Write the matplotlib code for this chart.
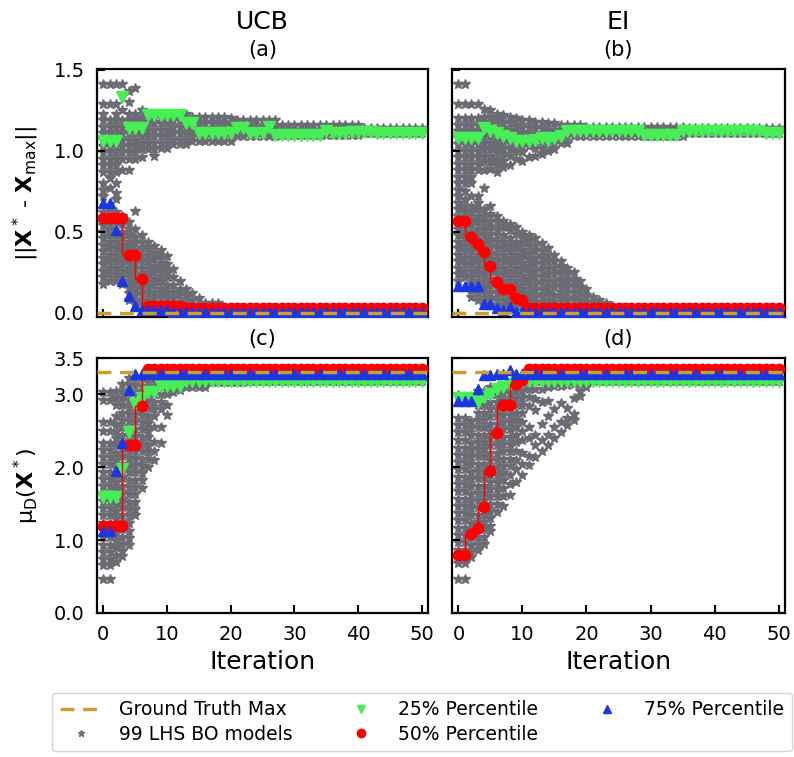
import matplotlib.pyplot as plt
from matplotlib.lines import Line2D
import numpy as np

plt.rcParams['font.family'] = 'DejaVu Sans'
plt.rcParams['mathtext.default'] = 'regular'

iterations = np.arange(51)

gt_dist = 0.0
gt_max = 3.31

# percentile curves, distance to the true maximiser
ucb_dist_p25 = [1.06, 1.06, 1.06, 1.33, 1.14, 1.14, 1.14, 1.22, 1.22, 1.22, 1.22, 1.22, 1.22,
                1.17, 1.17, 1.11, 1.11, 1.11, 1.11, 1.11, 1.11, 1.14, 1.14, 1.11, 1.11, 1.11,
                1.145, 1.10, 1.10, 1.10, 1.10, 1.10, 1.10, 1.10, 1.10, 1.125, 1.11, 1.11, 1.11,
                1.115, 1.115, 1.115, 1.115, 1.11, 1.11, 1.11, 1.11, 1.11, 1.11, 1.11, 1.11]
ucb_dist_p50 = [0.585, 0.585, 0.585, 0.585, 0.36, 0.36, 0.21, 0.04, 0.04, 0.04, 0.04, 0.04, 0.04,
                0.03, 0.03, 0.03, 0.03, 0.03, 0.03, 0.03, 0.03, 0.03, 0.03, 0.03, 0.03, 0.03,
                0.03, 0.03, 0.03, 0.03, 0.03, 0.03, 0.03, 0.03, 0.03, 0.03, 0.03, 0.03, 0.03,
                0.03, 0.03, 0.03, 0.03, 0.03, 0.03, 0.03, 0.03, 0.03, 0.03, 0.03, 0.03]
ucb_dist_p75 = [0.68, 0.68, 0.51, 0.20, 0.105, 0.04, 0.02, 0.02, 0.02, 0.02, 0.02, 0.005, 0.005,
                0.005, 0.005, 0.005, 0.005, 0.005, 0.005, 0.005, 0.005, 0.005, 0.005, 0.005, 0.005,
                0.005, 0.005, 0.005, 0.005, 0.005, 0.005, 0.005, 0.005, 0.005, 0.005, 0.005, 0.005,
                0.005, 0.005, 0.005, 0.005, 0.005, 0.005, 0.005, 0.005, 0.005, 0.005, 0.005, 0.005,
                0.005, 0.005]

ei_dist_p25 = [1.08, 1.08, 1.08, 1.08, 1.14, 1.12, 1.11, 1.09, 1.08, 1.06, 1.06, 1.06, 1.07,
               1.08, 1.07, 1.08, 1.09, 1.12, 1.12, 1.12, 1.12, 1.12, 1.12, 1.12, 1.12, 1.12,
               1.12, 1.12, 1.12, 1.10, 1.10, 1.10, 1.10, 1.10, 1.10, 1.12, 1.12, 1.12, 1.12,
               1.12, 1.12, 1.12, 1.12, 1.12, 1.12, 1.12, 1.12, 1.12, 1.11, 1.11, 1.11]
ei_dist_p50 = [0.565, 0.565, 0.467, 0.426, 0.375, 0.292, 0.19, 0.148, 0.148, 0.09, 0.082, 0.03,
               0.03, 0.03, 0.03, 0.03, 0.03, 0.03, 0.03, 0.03, 0.03, 0.03, 0.03, 0.03, 0.03, 0.03,
               0.03, 0.03, 0.03, 0.03, 0.03, 0.03, 0.03, 0.03, 0.03, 0.03, 0.03, 0.03, 0.03, 0.03,
               0.03, 0.03, 0.03, 0.03, 0.03, 0.03, 0.03, 0.03, 0.03, 0.03, 0.03]
ei_dist_p75 = [0.165, 0.165, 0.165, 0.165, 0.058, 0.058, 0.03, 0.02, 0.035, 0.005, 0.005, 0.005,
               0.005, 0.005, 0.005, 0.005, 0.005, 0.005, 0.005, 0.005, 0.005, 0.005, 0.005, 0.005,
               0.005, 0.005, 0.005, 0.005, 0.005, 0.005, 0.005, 0.005, 0.005, 0.005, 0.005, 0.005,
               0.005, 0.005, 0.005, 0.005, 0.005, 0.005, 0.005, 0.005, 0.005, 0.005, 0.005, 0.005,
               0.005, 0.005, 0.005]

# percentile curves, predicted mean at the recommended point
ucb_mu_p25 = [1.59, 1.59, 1.59, 1.98, 2.48, 2.87, 2.95, 3.03, 3.03, 3.12, 3.12, 3.12, 3.12,
              3.19, 3.19, 3.19, 3.19, 3.19, 3.19, 3.19, 3.19, 3.19, 3.19, 3.19, 3.19, 3.19,
              3.19, 3.19, 3.19, 3.19, 3.19, 3.19, 3.19, 3.19, 3.19, 3.19, 3.19, 3.19, 3.19,
              3.19, 3.19, 3.19, 3.19, 3.19, 3.19, 3.19, 3.19, 3.19, 3.19, 3.19, 3.19]
ucb_mu_p50 = [1.20, 1.20, 1.20, 1.20, 2.31, 2.31, 2.84, 3.35, 3.35, 3.35, 3.35, 3.35, 3.35,
              3.35, 3.35, 3.35, 3.35, 3.35, 3.35, 3.35, 3.35, 3.35, 3.35, 3.35, 3.35, 3.35,
              3.35, 3.35, 3.35, 3.35, 3.35, 3.35, 3.35, 3.35, 3.35, 3.35, 3.35, 3.35, 3.35,
              3.35, 3.35, 3.35, 3.35, 3.35, 3.35, 3.35, 3.35, 3.35, 3.35, 3.35, 3.35]
ucb_mu_p75 = [1.13, 1.13, 1.95, 2.34, 3.06, 3.28, 3.28, 3.28, 3.28, 3.28, 3.28, 3.28, 3.28,
              3.28, 3.28, 3.28, 3.28, 3.28, 3.28, 3.28, 3.28, 3.28, 3.28, 3.28, 3.28, 3.28,
              3.28, 3.28, 3.28, 3.28, 3.28, 3.28, 3.28, 3.28, 3.28, 3.28, 3.28, 3.28, 3.28,
              3.28, 3.28, 3.28, 3.28, 3.28, 3.28, 3.28, 3.28, 3.28, 3.28, 3.28, 3.28]

ei_mu_p25 = [2.95, 2.95, 2.95, 2.89, 2.96, 3.00, 3.07, 3.10, 3.15, 3.19, 3.19, 3.19, 3.19,
             3.19, 3.19, 3.19, 3.19, 3.19, 3.19, 3.19, 3.19, 3.19, 3.19, 3.19, 3.19, 3.19,
             3.19, 3.19, 3.19, 3.19, 3.19, 3.19, 3.19, 3.19, 3.19, 3.19, 3.19, 3.19, 3.19,
             3.19, 3.19, 3.19, 3.19, 3.19, 3.19, 3.19, 3.19, 3.19, 3.19, 3.19, 3.19]
ei_mu_p50 = [0.80, 0.80, 1.09, 1.16, 1.45, 1.95, 2.47, 2.85, 2.85, 3.15, 3.20, 3.35, 3.35,
             3.35, 3.35, 3.35, 3.35, 3.35, 3.35, 3.35, 3.35, 3.35, 3.35, 3.35, 3.35, 3.35,
             3.35, 3.35, 3.35, 3.35, 3.35, 3.35, 3.35, 3.35, 3.35, 3.35, 3.35, 3.35, 3.35,
             3.35, 3.35, 3.35, 3.35, 3.35, 3.35, 3.35, 3.35, 3.35, 3.35, 3.35, 3.35]
ei_mu_p75 = [2.91, 2.91, 2.91, 3.07, 3.26, 3.26, 3.28, 3.28, 3.33, 3.28, 3.28, 3.28, 3.28,
             3.28, 3.28, 3.28, 3.28, 3.28, 3.28, 3.28, 3.28, 3.28, 3.28, 3.28, 3.28, 3.28,
             3.28, 3.28, 3.28, 3.28, 3.28, 3.28, 3.28, 3.28, 3.28, 3.28, 3.28, 3.28, 3.28,
             3.28, 3.28, 3.28, 3.28, 3.28, 3.28, 3.28, 3.28, 3.28, 3.28, 3.28, 3.28]

# individual BO runs: visible star positions for each early iteration,
# then (first iteration, levels) for the settled part of the runs
ucb_dist_stars = [
    [1.41, 1.29, 1.23, 1.19, 1.15, 1.11, 1.07, 1.03, 0.99, 0.95, 0.91, 0.87, 0.80, 0.76, 0.72,
     0.62, 0.58, 0.54, 0.50, 0.46, 0.42, 0.38, 0.34, 0.30, 0.26, 0.22, 0.18],
    [1.41, 1.29, 1.19, 1.15, 1.11, 1.07, 1.03, 0.99, 0.95, 0.91, 0.87, 0.83, 0.77, 0.64, 0.56,
     0.52, 0.48, 0.44, 0.40, 0.36, 0.32, 0.28, 0.24, 0.20],
    [1.41, 1.29, 1.23, 1.19, 1.15, 1.11, 1.07, 1.03, 0.99, 0.95, 0.91, 0.87, 0.80, 0.74, 0.70,
     0.62, 0.56, 0.48, 0.44, 0.40, 0.36, 0.32, 0.28, 0.24, 0.20],
    [1.41, 1.25, 1.19, 1.15, 1.11, 1.07, 1.03, 0.99, 0.95, 0.88, 0.60, 0.55, 0.50, 0.46, 0.42,
     0.38, 0.34, 0.30, 0.26, 0.22, 0.18],
    [1.37, 1.30, 1.23, 1.19, 1.15, 1.11, 1.07, 1.03, 0.99, 0.95, 0.88, 0.56, 0.52, 0.48, 0.44,
     0.40, 0.36, 0.32, 0.28, 0.24, 0.20, 0.16, 0.12, 0.08],
    [1.39, 1.23, 1.19, 1.15, 1.11, 1.07, 1.03, 0.99, 0.95, 0.63, 0.52, 0.47, 0.43, 0.39, 0.35,
     0.31, 0.27, 0.23, 0.19, 0.15, 0.11, 0.07],
    [1.25, 1.21, 1.17, 1.13, 1.09, 1.05, 1.01, 0.96, 0.48, 0.44, 0.40, 0.36, 0.32, 0.28, 0.24,
     0.20, 0.16, 0.12, 0.08, 0.05],
    [1.21, 1.17, 1.13, 1.09, 1.05, 1.01, 0.44, 0.40, 0.36, 0.32, 0.28, 0.24, 0.20, 0.16, 0.12,
     0.08, 0.05],
    [1.21, 1.17, 1.13, 1.09, 1.05, 1.01, 0.97, 0.41, 0.37, 0.33, 0.29, 0.25, 0.21, 0.17, 0.13,
     0.09, 0.05],
    [1.21, 1.17, 1.13, 1.09, 1.05, 1.02, 0.39, 0.35, 0.31, 0.27, 0.23, 0.19, 0.15, 0.11, 0.07,
     0.04],
    [1.21, 1.17, 1.13, 1.09, 1.05, 1.02, 0.35, 0.30, 0.26, 0.22, 0.17, 0.13, 0.09, 0.05],
    [1.23, 1.19, 1.15, 1.11, 1.07, 1.04, 0.27, 0.22, 0.17, 0.13, 0.09, 0.05],
    [1.23, 1.19, 1.15, 1.11, 1.07, 1.04, 0.20, 0.15, 0.11, 0.07, 0.04],
    [1.23, 1.19, 1.15, 1.11, 1.07, 1.04, 0.15, 0.11, 0.07, 0.04],
    [1.21, 1.17, 1.13, 1.09, 1.06, 0.12, 0.08, 0.05],
    [1.21, 1.17, 1.13, 1.09, 1.06, 0.09, 0.05, 0.03],
    [1.21, 1.17, 1.13, 1.09, 1.06, 0.06, 0.03],
    [1.21, 1.17, 1.13, 1.09, 1.06, 0.06, 0.03],
    [1.21, 1.17, 1.13, 1.09, 1.06, 0.06, 0.03],
    [1.21, 1.17, 1.13, 1.09, 1.06, 0.03, 0.01],
    [1.20, 1.16, 1.12, 1.09, 1.06, 0.03, 0.01],
]
ucb_dist_tail = [(21, [1.19, 1.15, 1.12, 1.09, 0.03, 0.01]),
                 (28, [1.16, 1.13, 1.10, 0.03, 0.01]),
                 (41, [1.14, 1.11, 0.03, 0.01])]

ei_dist_stars = [
    [1.41, 1.29, 1.20, 1.16, 1.12, 1.08, 1.04, 1.00, 0.96, 0.92, 0.88, 0.84, 0.80, 0.76, 0.72,
     0.68, 0.64, 0.60, 0.56, 0.52, 0.48, 0.44, 0.40, 0.36, 0.32, 0.28, 0.24, 0.20],
    [1.41, 1.29, 1.20, 1.16, 1.12, 1.08, 1.04, 1.00, 0.96, 0.92, 0.88, 0.84, 0.80, 0.75, 0.70,
     0.66, 0.62, 0.58, 0.54, 0.50, 0.46, 0.42, 0.38, 0.34, 0.30, 0.26, 0.22],
    [1.29, 1.20, 1.16, 1.12, 1.08, 1.04, 1.00, 0.96, 0.92, 0.88, 0.84, 0.80, 0.72, 0.66, 0.62,
     0.58, 0.54, 0.50, 0.46, 0.42, 0.38, 0.34, 0.30, 0.26, 0.22, 0.18, 0.14, 0.10],
    [1.29, 1.20, 1.16, 1.12, 1.08, 1.04, 1.00, 0.96, 0.92, 0.88, 0.72, 0.68, 0.64, 0.60, 0.56,
     0.52, 0.48, 0.44, 0.40, 0.36, 0.32, 0.28, 0.24, 0.20, 0.16, 0.12, 0.08],
    [1.26, 1.21, 1.17, 1.13, 1.09, 1.05, 1.01, 0.97, 0.93, 0.88, 0.77, 0.64, 0.60, 0.56, 0.52,
     0.48, 0.44, 0.40, 0.36, 0.32, 0.28, 0.24, 0.20, 0.16, 0.12, 0.08, 0.05],
    [1.25, 1.21, 1.17, 1.13, 1.09, 1.05, 1.01, 0.97, 0.93, 0.89, 0.66, 0.61, 0.57, 0.53, 0.49,
     0.45, 0.41, 0.37, 0.33, 0.29, 0.25, 0.21, 0.17, 0.13, 0.09, 0.05],
    [1.23, 1.19, 1.15, 1.11, 1.07, 1.03, 0.99, 0.95, 0.91, 0.87, 0.60, 0.56, 0.52, 0.48, 0.44,
     0.40, 0.36, 0.32, 0.28, 0.24, 0.20, 0.16, 0.12, 0.08, 0.04],
    [1.22, 1.18, 1.14, 1.10, 1.06, 1.02, 0.98, 0.94, 0.90, 0.57, 0.53, 0.48, 0.44, 0.40, 0.36,
     0.32, 0.28, 0.24, 0.20, 0.16, 0.12, 0.08, 0.04],
    [1.21, 1.17, 1.13, 1.09, 1.05, 1.01, 0.97, 0.91, 0.55, 0.51, 0.46, 0.42, 0.38, 0.34, 0.30,
     0.26, 0.22, 0.18, 0.14, 0.10, 0.06, 0.03],
    [1.20, 1.16, 1.12, 1.08, 1.04, 1.00, 0.95, 0.53, 0.49, 0.44, 0.40, 0.36, 0.32, 0.28, 0.24,
     0.20, 0.16, 0.12, 0.08, 0.04],
    [1.19, 1.15, 1.11, 1.07, 1.03, 0.99, 0.94, 0.50, 0.47, 0.43, 0.39, 0.35, 0.31, 0.27, 0.23,
     0.19, 0.15, 0.11, 0.07, 0.04],
    [1.19, 1.15, 1.11, 1.07, 1.03, 0.96, 0.48, 0.45, 0.41, 0.37, 0.33, 0.29, 0.25, 0.21, 0.17,
     0.13, 0.09, 0.05, 0.03],
    [1.18, 1.14, 1.10, 1.06, 1.02, 0.97, 0.46, 0.42, 0.38, 0.34, 0.30, 0.26, 0.22, 0.18, 0.14,
     0.10, 0.06, 0.03],
    [1.18, 1.14, 1.10, 1.06, 1.02, 0.98, 0.43, 0.39, 0.35, 0.31, 0.27, 0.23, 0.19, 0.15, 0.11,
     0.07, 0.03],
    [1.17, 1.13, 1.09, 1.05, 1.00, 0.40, 0.36, 0.32, 0.28, 0.24, 0.20, 0.16, 0.12, 0.08, 0.04],
    [1.17, 1.13, 1.09, 1.05, 1.01, 0.36, 0.32, 0.28, 0.24, 0.20, 0.16, 0.11, 0.07, 0.03],
    [1.16, 1.12, 1.09, 1.05, 0.32, 0.29, 0.25, 0.21, 0.17, 0.13, 0.09, 0.05, 0.02],
    [1.16, 1.12, 1.09, 1.05, 0.28, 0.24, 0.20, 0.16, 0.12, 0.08, 0.04, 0.02],
    [1.16, 1.12, 1.09, 0.25, 0.21, 0.17, 0.13, 0.09, 0.05, 0.02],
    [1.16, 1.12, 1.09, 0.20, 0.16, 0.12, 0.08, 0.04, 0.02],
    [1.15, 1.12, 1.09, 0.15, 0.11, 0.07, 0.04, 0.02],
    [1.15, 1.12, 1.09, 0.10, 0.07, 0.04, 0.02],
    [1.15, 1.12, 1.09, 0.08, 0.05, 0.02],
    [1.15, 1.12, 1.09, 0.06, 0.03],
    [1.15, 1.12, 1.09, 0.04, 0.02],
]
ei_dist_tail = [(25, [1.15, 1.12, 1.09, 0.02]),
                (36, [1.14, 1.11, 0.02])]

ucb_mu_stars = [
    [3.03, 2.92, 2.62, 2.50, 2.34, 2.24, 2.14, 2.04, 1.94, 1.84, 1.74, 1.64, 1.54, 1.44, 1.34,
     1.24, 1.14, 1.04, 0.94, 0.84, 0.74, 0.66, 0.46],
    [3.03, 2.92, 2.62, 2.50, 2.34, 2.24, 2.14, 2.04, 1.94, 1.84, 1.74, 1.64, 1.54, 1.44, 1.34,
     1.24, 1.14, 1.04, 0.94, 0.84, 0.74, 0.66, 0.46],
    [3.05, 2.95, 2.85, 2.70, 2.60, 2.50, 2.40, 2.30, 2.20, 2.10, 2.00, 1.90, 1.80, 1.70, 1.60,
     1.50, 1.40, 1.30, 1.20, 1.10, 1.00, 0.90, 0.80, 0.70],
    [3.15, 3.05, 2.95, 2.85, 2.75, 2.65, 2.55, 2.45, 2.35, 2.25, 2.15, 2.05, 1.95, 1.85, 1.75,
     1.65, 1.55, 1.45, 1.35, 1.25, 1.15, 1.05, 0.95, 0.85, 0.78],
    [3.23, 3.13, 3.03, 2.93, 2.83, 2.73, 2.63, 2.53, 2.43, 2.33, 2.23, 2.13, 2.03, 1.93, 1.83,
     1.73, 1.63, 1.53, 1.43, 1.33, 1.23, 1.13, 1.03, 0.94],
    [3.23, 3.13, 3.03, 2.93, 2.83, 2.73, 2.63, 2.53, 2.43, 2.33, 2.23, 2.13, 2.03, 1.93, 1.83,
     1.73, 1.63, 1.53, 1.43, 1.35],
    [3.22, 3.12, 3.02, 2.92, 2.82, 2.72, 2.62, 2.52, 2.42, 2.32, 2.22, 2.12, 2.02, 1.92, 1.82,
     1.72],
    [3.21, 3.11, 3.01, 2.91, 2.81, 2.71, 2.61, 2.51, 2.41, 2.31, 2.21, 2.11, 2.01],
    [3.21, 3.11, 3.01, 2.90, 2.80, 2.70, 2.55, 2.35, 2.22, 2.10],
    [3.21, 3.11, 3.01, 2.90, 2.80, 2.55, 2.34],
    [3.20, 3.10, 3.00, 2.85, 2.72],
    [3.21, 3.13, 3.03],
    [3.21, 3.14, 3.06],
]
ucb_mu_tail = [(13, [3.22, 3.15, 3.10]),
               (17, [3.22, 3.17]),
               (23, [3.22, 3.19])]

ei_mu_stars = [
    [2.99, 2.68, 2.58, 2.48, 2.37, 2.27, 2.17, 2.07, 1.97, 1.87, 1.77, 1.67, 1.57, 1.47, 1.37,
     1.27, 1.17, 1.07, 0.97, 0.87, 0.77, 0.68, 0.47],
    [2.68, 2.58, 2.48, 2.37, 2.27, 2.17, 2.07, 1.97, 1.87, 1.77, 1.67, 1.57, 1.47, 1.37, 1.27,
     1.17, 1.07, 0.97, 0.87, 0.77, 0.68, 0.47],
    [2.64, 2.54, 2.44, 2.34, 2.24, 2.14, 2.04, 1.94, 1.84, 1.74, 1.64, 1.54, 1.44, 1.34, 1.24,
     1.14, 1.04, 0.94, 0.84, 0.77],
    [3.05, 2.95, 2.85, 2.75, 2.65, 2.55, 2.45, 2.35, 2.25, 2.15, 2.05, 1.95, 1.85, 1.75, 1.65,
     1.55, 1.45, 1.35, 1.25, 1.15, 1.05, 0.95, 0.86],
    [3.05, 2.95, 2.85, 2.75, 2.65, 2.55, 2.45, 2.35, 2.25, 2.15, 2.05, 1.95, 1.85, 1.75, 1.65,
     1.55, 1.45, 1.35, 1.25, 1.15, 1.05, 0.95],
    [3.10, 3.00, 2.90, 2.80, 2.70, 2.60, 2.50, 2.40, 2.30, 2.20, 2.10, 2.00, 1.90, 1.80, 1.70,
     1.60, 1.50, 1.40, 1.30, 1.20, 1.12],
    [3.10, 3.00, 2.90, 2.80, 2.70, 2.60, 2.50, 2.40, 2.30, 2.20, 2.10, 2.00, 1.90, 1.80, 1.70,
     1.60, 1.50, 1.38],
    [3.12, 3.02, 2.92, 2.82, 2.72, 2.62, 2.52, 2.42, 2.32, 2.22, 2.12, 2.02, 1.92, 1.82, 1.72,
     1.60, 1.47],
    [3.12, 3.02, 2.92, 2.82, 2.72, 2.62, 2.52, 2.42, 2.32, 2.22, 2.12, 2.02, 1.90, 1.77, 1.62],
    [3.15, 3.05, 2.95, 2.85, 2.75, 2.65, 2.55, 2.45, 2.35, 2.22, 2.10, 1.97, 1.80],
    [3.15, 3.05, 2.95, 2.85, 2.75, 2.62, 2.50, 2.38, 2.20, 2.05, 1.90],
    [3.17, 3.07, 2.97, 2.84, 2.55, 2.40, 2.16, 2.03],
    [3.18, 3.08, 2.94, 2.78, 2.45, 2.30, 2.14],
    [3.18, 3.08, 2.90, 2.60, 2.38, 2.22],
    [3.18, 3.10, 2.91, 2.70, 2.45, 2.30],
    [3.20, 3.12, 2.80, 2.55, 2.40],
    [3.20, 3.12, 2.88, 2.62, 2.48],
    [3.20, 3.13, 2.82, 2.68, 2.58],
    [3.21, 3.14, 2.95, 2.73, 2.65],
    [3.21, 3.15, 3.05, 2.98],
    [3.22, 3.16, 3.10],
]
ei_mu_tail = [(21, [3.22, 3.19])]

STAR = '#6b6b73'
GREEN = '#45ef55'
RED = '#ff0000'
BLUE = '#1c36e2'
GOLD = '#c9a02c'
W, H = 794, 757


def star_points(stars, tail):
    xs, ys = [], []
    for i, vals in enumerate(stars):
        xs += [i] * len(vals)
        ys += vals
    for k, (start, vals) in enumerate(tail):
        stop = tail[k + 1][0] if k + 1 < len(tail) else 51
        for i in range(start, stop):
            xs += [i] * len(vals)
            ys += vals
    return xs, ys


def draw_panel(ax, stars, tail, p25, p50, p75, gt):
    xs, ys = star_points(stars, tail)
    ax.plot(xs, ys, ls='none', marker='*', ms=7, color=STAR, zorder=1)
    ax.plot(iterations, p25, ls='none', marker='v', ms=8, color=GREEN, zorder=2)
    ax.plot(iterations, p50, drawstyle='steps', lw=1, color=RED, zorder=3)
    ax.plot(iterations, p50, ls='none', marker='o', ms=7.5, color=RED, zorder=3)
    ax.plot(iterations, p75, ls='none', marker='^', ms=7, color=BLUE, zorder=4)
    ax.axhline(gt, ls=(0, (4, 2.5)), lw=2.5, color=GOLD, zorder=5)
    ax.set_xlim(-1, 51)
    ax.set_xticks([0, 10, 20, 30, 40, 50])
    ax.tick_params(direction='in', length=6, width=1.5, labelsize=14, pad=9)
    for s in ax.spines.values():
        s.set_linewidth(1.6)


def axes_at(x0, y0, x1, y1):
    return fig.add_axes([x0 / W, 1 - y1 / H, (x1 - x0) / W, (y1 - y0) / H])


fig = plt.figure(figsize=(W / 100, H / 100), dpi=100)
ax_a = axes_at(97, 69, 428, 317)
ax_b = axes_at(452, 69, 785, 317)
ax_c = axes_at(97, 358, 428, 613)
ax_d = axes_at(452, 358, 785, 613)

draw_panel(ax_a, ucb_dist_stars, ucb_dist_tail, ucb_dist_p25, ucb_dist_p50, ucb_dist_p75, gt_dist)
draw_panel(ax_b, ei_dist_stars, ei_dist_tail, ei_dist_p25, ei_dist_p50, ei_dist_p75, gt_dist)
draw_panel(ax_c, ucb_mu_stars, ucb_mu_tail, ucb_mu_p25, ucb_mu_p50, ucb_mu_p75, gt_max)
draw_panel(ax_d, ei_mu_stars, ei_mu_tail, ei_mu_p25, ei_mu_p50, ei_mu_p75, gt_max)

for ax in (ax_a, ax_b):
    ax.set_ylim(-0.025, 1.505)
    ax.set_yticks([0, 0.5, 1.0, 1.5])
    ax.set_yticklabels(['0.0', '0.5', '1.0', '1.5'])
    ax.tick_params(labelbottom=False)
for ax in (ax_c, ax_d):
    ax.set_ylim(0, 3.5)
    ax.set_yticks([0, 1, 2, 3, 3.5])
    ax.set_yticklabels(['0.0', '1.0', '2.0', '3.0', '3.5'])
    ax.set_xlabel('Iteration', fontsize=18)
for ax in (ax_b, ax_d):
    ax.tick_params(labelleft=False)

ax_a.set_ylabel(r'$||\mathbf{X}^*$ - $\mathbf{X}_{max}||$', fontsize=16)
ax_c.set_ylabel(r'$\mu_D(\mathbf{X}^*)$', fontsize=16)
ax_a.yaxis.set_label_coords(-0.17, 0.5)
ax_c.yaxis.set_label_coords(-0.17, 0.5)

fig.text(262 / W, 1 - 22 / H, 'UCB', ha='center', va='center', fontsize=18)
fig.text(618 / W, 1 - 22 / H, 'EI', ha='center', va='center', fontsize=18)
for label, ax, ytop in (('(a)', ax_a, 50), ('(b)', ax_b, 50), ('(c)', ax_c, 339), ('(d)', ax_d, 339)):
    bb = ax.get_position()
    fig.text(bb.x0 + bb.width / 2, 1 - ytop / H, label, ha='center', va='center', fontsize=15)

handles = [
    Line2D([], [], ls=(0, (4, 2.5)), lw=2.5, color=GOLD),
    Line2D([], [], ls='none', marker='*', ms=5, color=STAR),
    Line2D([], [], ls='none', marker='v', ms=6, color=GREEN),
    Line2D([], [], ls='none', marker='o', ms=6, color=RED),
    Line2D([], [], ls='none', marker='^', ms=6, color=BLUE),
]
labels = ['Ground Truth Max', '99 LHS BO models', '25% Percentile', '50% Percentile', '75% Percentile']
fig.legend(handles, labels, ncol=3, loc='center', bbox_to_anchor=(422 / W, 1 - 722 / H),
           fontsize=13.5, handlelength=2.3, handletextpad=0.85, columnspacing=2.5,
           labelspacing=0.3, borderpad=0.4)

fig.savefig('out.png', dpi=100)
